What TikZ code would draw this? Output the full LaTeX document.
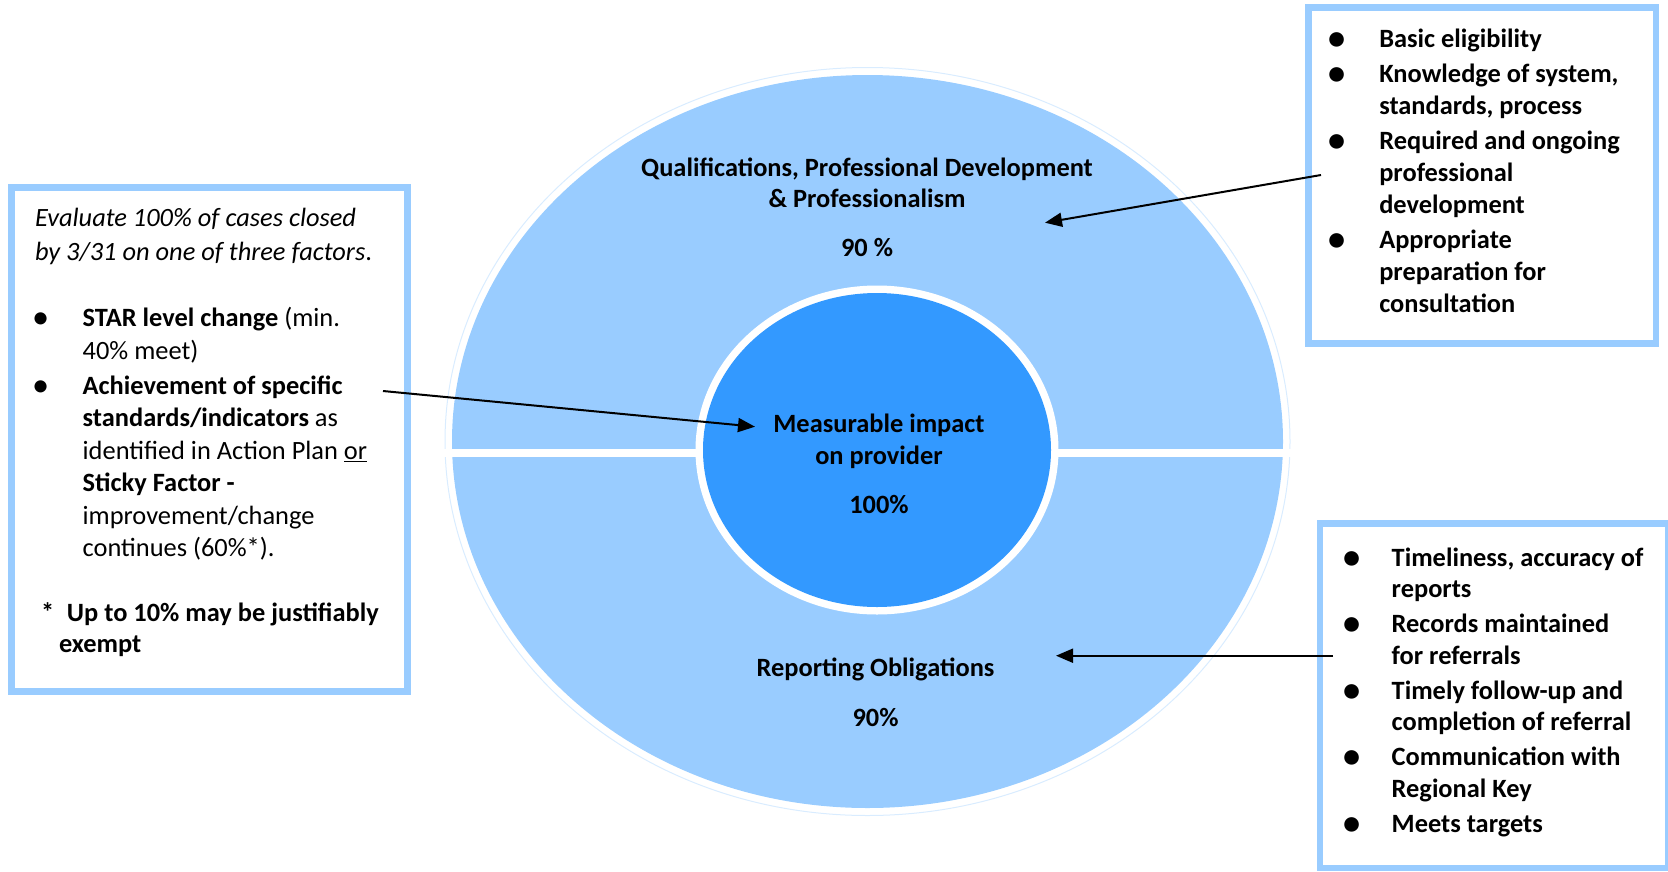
\documentclass[tikz,border=0pt]{standalone}
\usepackage{fontspec}
\setmainfont{Carlito}
\usetikzlibrary{arrows.meta}
\definecolor{ringblue}{HTML}{99CCFF}
\definecolor{coreblue}{HTML}{3399FF}
\definecolor{haloblue}{HTML}{D9ECFF}
% enlarged bullet of zero width, centred on its column edge
\newcommand{\bl}{\makebox[0pt][c]{\raisebox{-2pt}{\scalebox{1.3}{\textbullet}}}}
\begin{document}
\begin{tikzpicture}[x=1pt,y=-1pt,
  every node/.style={inner sep=0pt, outer sep=0pt},
  panel/.style={draw=ringblue, line width=6.8pt, fill=none},
  body/.style={font=\fontsize{26.4}{32.5}\selectfont},
  bodyb/.style={font=\fontsize{26.4}{32.5}\selectfont\bfseries},
  link/.style={line width=2pt, -{Triangle[length=17pt,width=14pt]}},
]
\useasboundingbox (0,0) rectangle (1668,871);

% ---- rings ----
\draw[haloblue, line width=1pt] (867.5,441.5) ellipse [x radius=422.5, y radius=374];
\fill[ringblue] (867.5,441.5) ellipse [x radius=415.5, y radius=366.5];
\fill[white] (440,449.2) rectangle (1295,456.7);
\fill[white] (877,450) ellipse [x radius=181.5, y radius=164.5];
\fill[coreblue] (877,450) ellipse [x radius=174, y radius=157];

% ---- ring labels ----
\node[bodyb, anchor=base] (qtitle) at (867,176)
  {\begin{tabular}[t]{@{}c@{}}Qualifications, Professional Development\\[-0.6pt] \& Professionalism\end{tabular}};
\node[bodyb, anchor=base] (qpct) at (867,256) {90 \%};
\node[bodyb, anchor=base] (mtitle) at (879,432.7)
  {\begin{tabular}[t]{@{}c@{}}Measurable impact\\[-1pt] on provider\end{tabular}};
\node[bodyb, anchor=base] (mpct) at (879,513.3) {100\%};
\node[bodyb, anchor=base] (rtitle) at (875.5,676.5) {Reporting Obligations};
\node[bodyb, anchor=base] (rpct) at (875.5,726) {90\%};

% ---- side panels ----
\node[panel, minimum width=396pt, minimum height=504pt] (leftbox) at (209.5,439.5) {};
\node[panel, minimum width=347.7pt, minimum height=336pt] (topbox) at (1482.15,175.3) {};
\node[panel, minimum width=348.5pt, minimum height=344.7pt] (botbox) at (1494.25,695.65) {};

% left panel text
\node[body, anchor=base west] (intro) at (35,226.7)
  {\begin{tabular}[t]{@{}l@{}}\itshape Evaluate 100\% of cases closed\\[1pt]
   \itshape by 3/31 on one of three factors\textup{.}\end{tabular}};
\node[body, anchor=base west] (leftlist) at (40.7,326.5)
  {\begin{tabular}[t]{@{}l@{\hspace{42pt}}l@{}}
   \bl & \textbf{STAR level change} (min.\\
       & 40\% meet)\\[2.7pt]
   \bl & \textbf{Achievement of specific}\\
       & \textbf{standards/indicators} as\\
       & identified in Action Plan \underline{or}\\
       & \textbf{Sticky Factor -}\\
       & improvement/change\\
       & continues (60\%*).
   \end{tabular}};
\node[bodyb, anchor=base west] (exempt) at (41,621.5)
  {\begin{tabular}[t]{@{}l@{}}\makebox[26pt][l]{*}Up to 10\% may be justifiably\\[-2pt]
   \hspace{18pt}exempt\end{tabular}};

% top-right panel text
\node[font=\fontsize{26.4}{32.2}\selectfont\bfseries, anchor=base west] (toplist) at (1336.7,47.7)
  {\begin{tabular}[t]{@{}l@{\hspace{42.6pt}}l@{}}
   \bl & Basic eligibility\\[2.5pt]
   \bl & Knowledge of system,\\
       & standards, process\\[2.5pt]
   \bl & Required and ongoing\\
       & professional\\
       & development\\[2.5pt]
   \bl & Appropriate\\
       & preparation for\\
       & consultation
   \end{tabular}};

% bottom-right panel text
\node[font=\fontsize{26.4}{31.6}\selectfont\bfseries, anchor=base west] (botlist) at (1351.7,566)
  {\begin{tabular}[t]{@{}l@{\hspace{40pt}}l@{}}
   \bl & Timeliness, accuracy of\\
       & reports\\[3.3pt]
   \bl & Records maintained\\
       & for referrals\\[3.3pt]
   \bl & Timely follow-up and\\
       & completion of referral\\[3.3pt]
   \bl & Communication with\\
       & Regional Key\\[3.3pt]
   \bl & Meets targets
   \end{tabular}};

% ---- connectors ----
\coordinate (qfrom) at (1321,175);
\coordinate (qto) at (1045,222.7);
\coordinate (lfrom) at (383,391);
\coordinate (lto) at (755,426.7);
\coordinate (rfrom) at (1333,655.7);
\coordinate (rto) at (1056,655.7);
\draw[link] (qfrom) -- (qto);
\draw[link] (lfrom) -- (lto);
\draw[link] (rfrom) -- (rto);
\end{tikzpicture}
\end{document}
